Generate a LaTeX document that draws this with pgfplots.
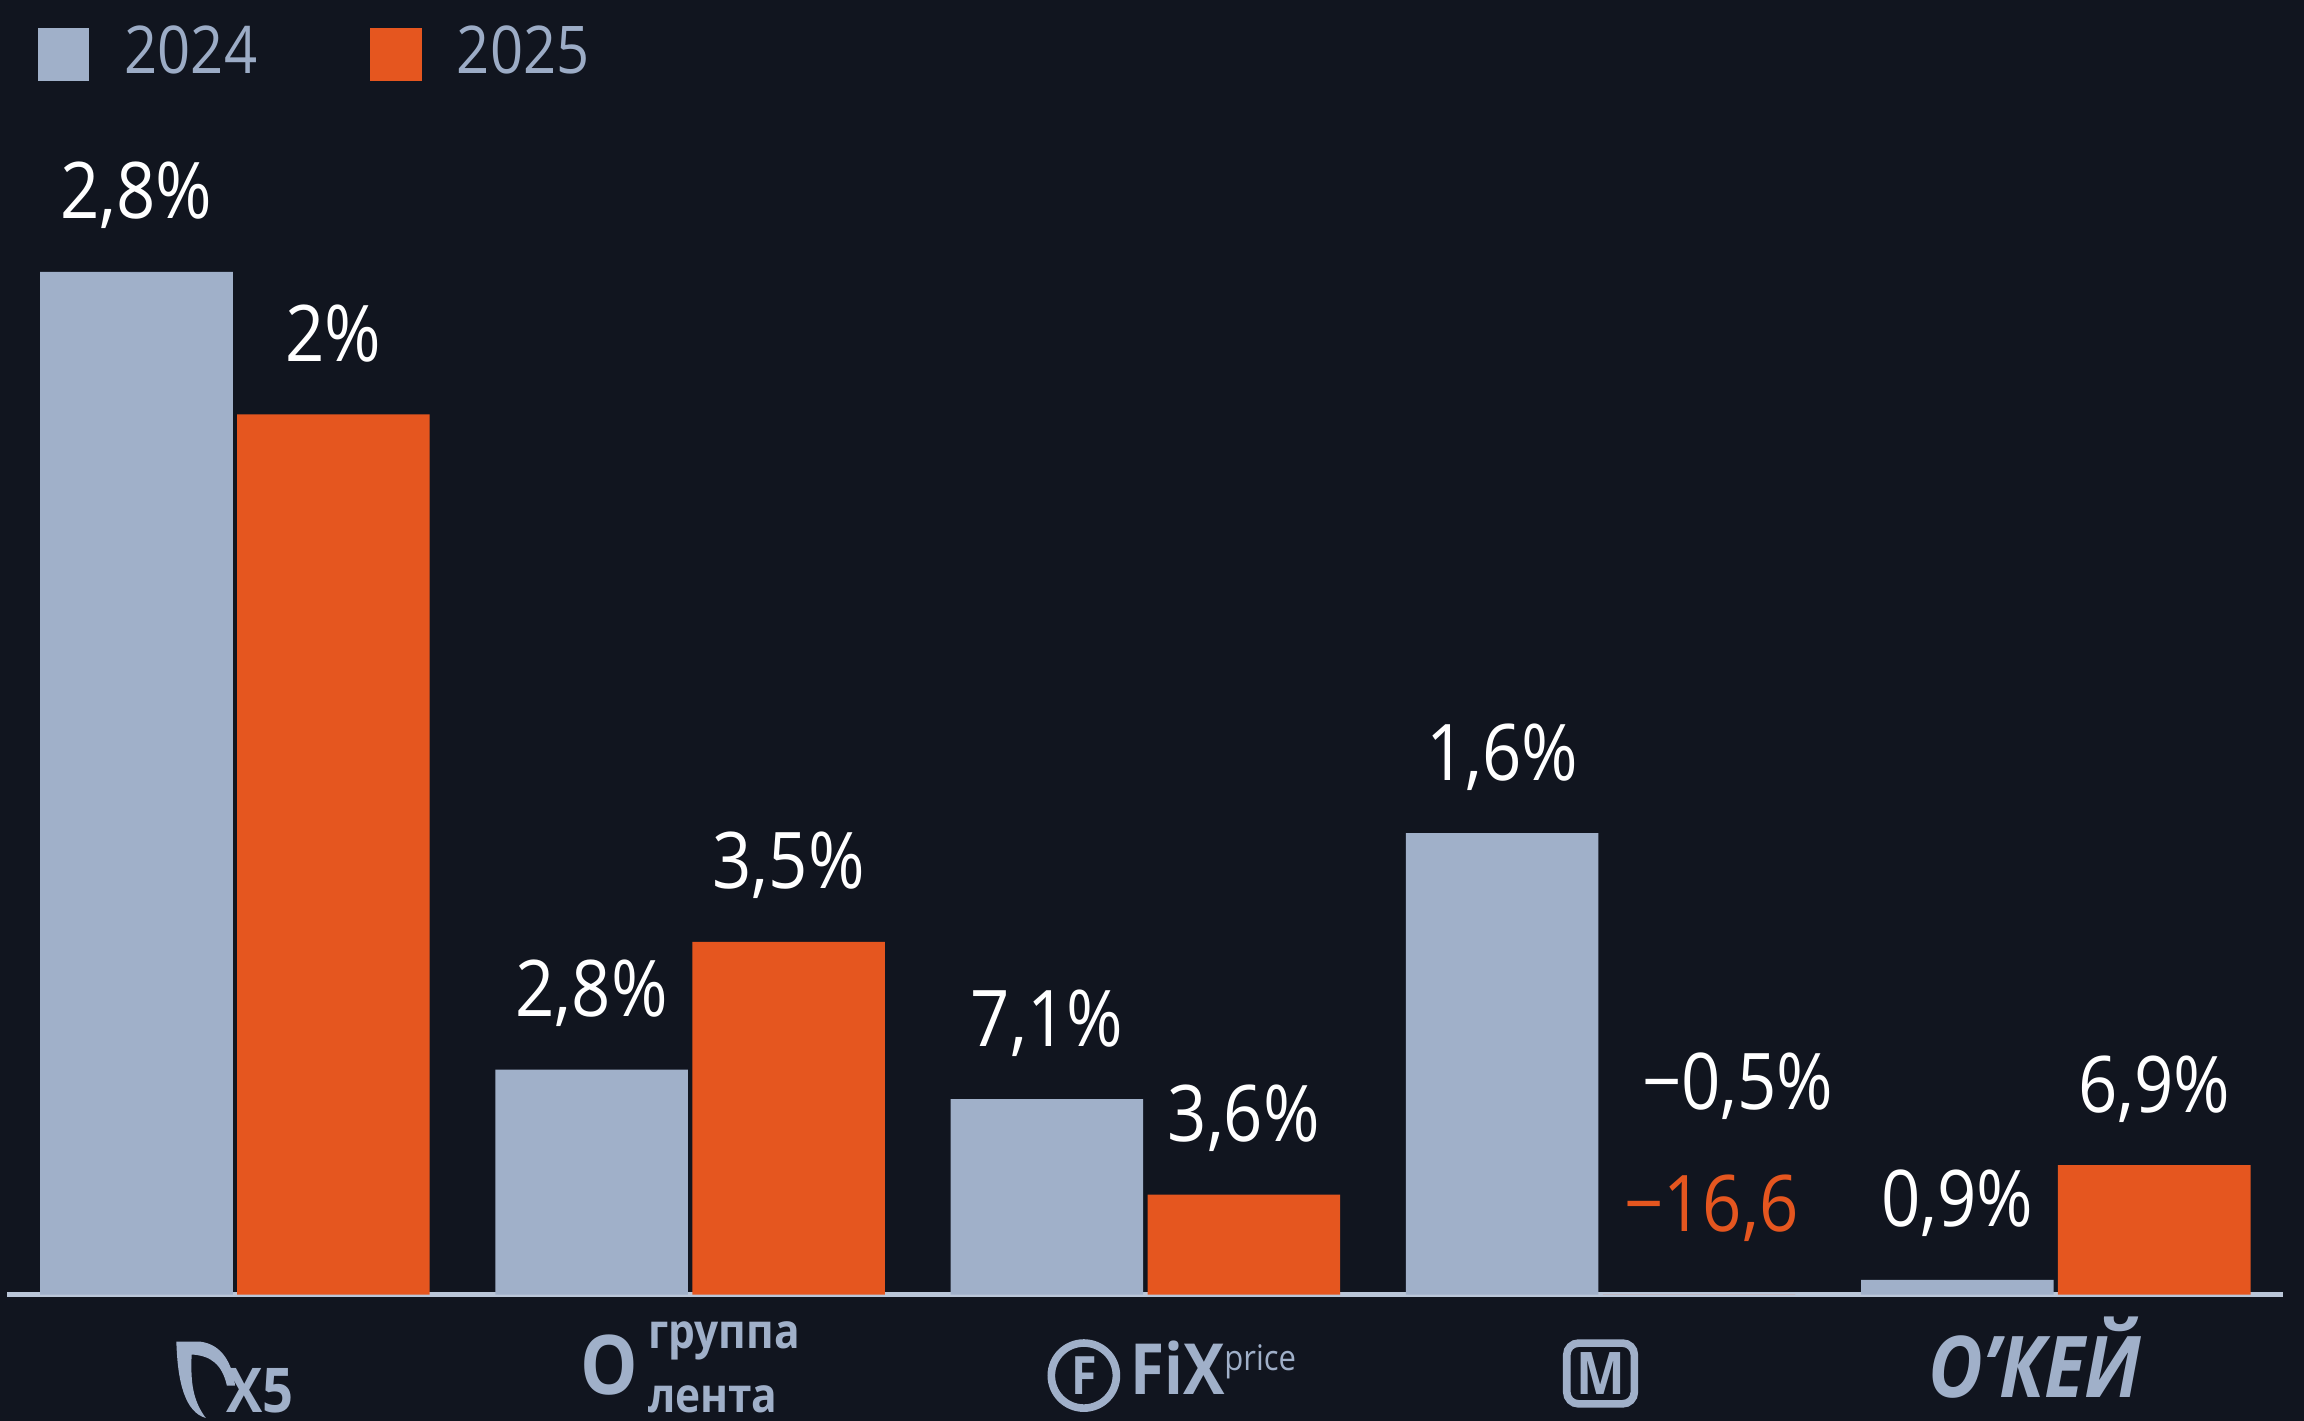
\documentclass[border=0pt]{standalone}
\usepackage{fontspec}
\setmainfont{Open Sans}[FakeStretch=0.88]
\usepackage{pgfplots}
\usepackage{pgfplotstable}
\pgfplotsset{compat=1.18}
\definecolor{bgcol}{RGB}{17,21,31}
\definecolor{bluec}{RGB}{160,176,201}
\definecolor{orangec}{RGB}{229,86,31}
\definecolor{axiscol}{RGB}{186,198,216}
\definecolor{legtext}{RGB}{156,172,198}

\pgfplotstableread{
x y lab
0 696 2,8\%
1 153 2,8\%
2 133 7,1\%
3 314 1,6\%
4 10 0,9\%
}\tA
\pgfplotstableread{
x y lab
0 599 2\%
1 240 3,5\%
2 68 3,6\%
3 0 {}
4 88 6,9\%
}\tB

\begin{document}
\begin{tikzpicture}
\useasboundingbox (0,0) rectangle (392pt,241.75pt);
\fill[bgcol] (0,0) rectangle (392pt,241.75pt);
\clip (0,0) rectangle (392pt,241.75pt);
\begin{axis}[
  at={(1.25pt,21.5pt)}, anchor=south west,
  scale only axis, width=387.25pt, height=220.25pt,
  xmin=-0.5, xmax=4.5, ymin=0, ymax=881,
  clip=false,
  axis y line=none,
  axis x line*=bottom,
  x axis line style={draw=axiscol, line width=0.9pt, -},
  xtick={0,1,2,3,4},
  xtick style={draw=none},
  ytick=\empty,
  xticklabels={
    {\tikz[baseline=0pt]{\fill[bluec] (-1pt,12pt) -- (3pt,12pt) .. controls (7pt,11.5pt) and (8.5pt,8pt) .. (9pt,4.5pt) -- (7.6pt,4.5pt) .. controls (6.8pt,8pt) and (5pt,9.6pt) .. (1.6pt,9.8pt) .. controls (1.4pt,5pt) and (1.8pt,2pt) .. (4pt,-1pt) .. controls (0.5pt,0pt) and (-0.8pt,5pt) .. cycle;}\hspace{-1.5pt}{\fontsize{10.5}{10.5}\selectfont\bfseries X5}},
    {\raisebox{3pt}{\fontsize{14}{14}\selectfont\bfseries O}\,{\fontsize{8.2}{10.8}\selectfont\bfseries\begin{tabular}[b]{@{}l@{}}группа\\лента\end{tabular}}},
    {\hspace*{9pt}\raisebox{3pt}{\tikz[baseline=(c.base)]\node[circle,draw=bluec,line width=1.3pt,inner sep=1.2pt,font=\bfseries\fontsize{9}{9}\selectfont](c){F};\,{\bfseries\fontsize{12}{12}\selectfont FiX}{\fontsize{6}{6}\selectfont\raisebox{4pt}{price}}}},
    {\raisebox{3pt}{\tikz[baseline=(m.base)]\node[draw=bluec,line width=1.3pt,rounded corners=2pt,inner sep=1.6pt,font=\bfseries\fontsize{10}{10}\selectfont](m){М};}},
    {\raisebox{2.5pt}{\fontsize{14.5}{14.5}\selectfont\bfseries\itshape О’КЕЙ}\hspace*{7pt}}
  },
  xticklabel style={text=bluec, anchor=base, yshift=-20pt, inner sep=0pt},
  legend style={at={(axis description cs:0,1)}, anchor=north west,
    xshift=5pt, yshift=-4.25pt,
    draw=none, fill=none, inner sep=0pt, text=legtext,
    font=\fontsize{11.2}{12}\selectfont,
    nodes={inner sep=0pt, anchor=west},
    /tikz/every odd column/.append style={column sep=6pt},
    /tikz/every even column/.append style={column sep=19.25pt}},
  legend columns=2,
  legend image code/.code={\fill[#1] (0pt,-4.5pt) rectangle (8.75pt,4.5pt);},
  nodes near coords,
  point meta=explicit symbolic,
  every node near coord/.append style={anchor=base, yshift=9pt, inner sep=0pt, text=white, font=\fontsize{13.3}{15}\selectfont},
]
\addplot[ybar, bar width=0.423, bar shift=0pt, fill=bluec, draw=none]
  table[x expr=\thisrow{x}-0.2163, y=y, meta=lab] {\tA};
\addlegendentry{2024}
\addplot[ybar, bar width=0.423, bar shift=0pt, fill=orangec, draw=none]
  table[x expr=\thisrow{x}+0.2163, y=y, meta=lab] {\tB};
\addlegendentry{2025}
\node[anchor=base, text=white, inner sep=0pt, font=\fontsize{13.3}{15}\selectfont]
  at (axis cs:3.2163,0) [xshift=6.6pt, yshift=31.5pt] {−0,5\%};
\node[anchor=base, text=orangec, inner sep=0pt, font=\fontsize{13.3}{15}\selectfont]
  at (axis cs:3.2163,0) [xshift=2.1pt, yshift=10.75pt] {−16,6};
\end{axis}
\end{tikzpicture}
\end{document}
